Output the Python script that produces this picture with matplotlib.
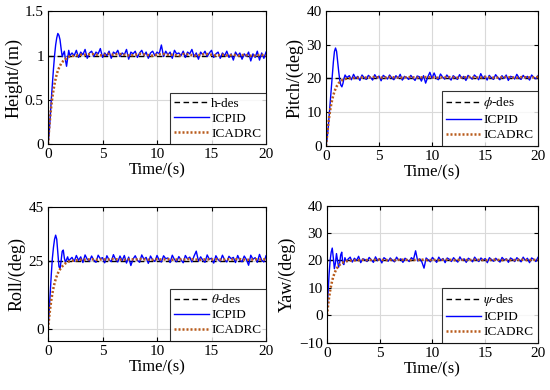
import numpy as np
import matplotlib.pyplot as plt

plt.rcParams['font.family'] = ['Liberation Serif', 'DejaVu Serif']
plt.rcParams['mathtext.fontset'] = 'stix'

# time bases
t_pid = np.concatenate([np.arange(0, 2.01, 0.1), np.arange(2.2, 20.01, 0.2)])
t_adrc = np.concatenate([np.arange(0, 1.01, 0.1), [1.2, 1.4, 1.6, 1.8, 2.0], np.arange(2.5, 20.01, 0.5)])

# Height
h_des = 1.0
h_pid = [0, 0.12, 0.30, 0.50, 0.68, 0.85, 1.0, 1.12, 1.20, 1.25, 1.23, 1.18, 1.08, 0.99, 1.02, 1.05, 0.95, 0.88, 0.97, 1.06, 1.0,
         1.03, 1.0, 1.06, 0.98, 1.04, 1.01, 1.07, 0.97, 1.03, 1.05,
         0.99, 1.04, 1.02, 1.08, 0.98, 1.03, 1.0, 1.05, 0.97, 1.04,
         1.02, 1.06, 0.99, 1.03, 1.01, 1.07, 0.96, 1.04, 1.02, 1.05,
         0.98, 1.03, 1.06, 1.0, 1.04, 0.97, 1.03, 1.05, 1.0, 1.04,
         1.02, 1.12, 0.99, 1.05, 1.01, 1.04, 0.97, 1.06, 1.02, 1.03,
         1.0, 1.05, 0.98, 1.04, 1.02, 1.07, 0.99, 1.03, 0.96, 1.04,
         1.01, 1.05, 0.99, 1.03, 1.06, 0.98, 1.02, 1.04, 0.97, 1.03,
         1.0, 1.05, 0.98, 1.02, 0.95, 1.04, 1.0, 1.03, 0.96, 1.02,
         0.99, 1.04, 0.94, 1.02, 0.98, 1.05, 0.95, 1.03, 0.97, 1.04]
h_adrc = [0, 0.17, 0.31, 0.43, 0.53, 0.61, 0.68, 0.74, 0.79, 0.83, 0.86, 0.91, 0.94, 0.96, 0.98, 0.99,
          1.0, 1.01, 1.01, 1.02, 1.01, 1.0, 1.02, 1.01, 1.02, 1.01, 1.0, 1.01, 1.02, 1.01, 1.0, 1.01, 1.02, 1.01,
          1.01, 1.0, 1.02, 1.01, 1.0, 1.01, 1.02, 1.01, 1.0, 1.01, 1.0, 1.01, 1.0, 1.01, 1.0, 1.0, 1.01, 1.0]

# Pitch
p_des = 20.0
p_pid = [0, 2, 5, 9, 13, 17, 21, 25, 28, 29, 28, 25, 22, 19.5, 18, 17.5, 18.5, 20, 21, 20.5, 20.3,
         20.8, 19.6, 21.2, 20.0, 20.6, 19.4, 21.0, 20.2, 19.7, 20.9,
         20.3, 19.5, 21.1, 20.1, 20.7, 19.3, 20.9, 20.4, 19.8, 21.0,
         20.2, 19.6, 20.8, 20.0, 21.2, 19.5, 20.6, 20.3, 19.7, 20.9,
         20.1, 19.4, 20.7, 20.5, 19.2, 20.8, 18.6, 20.4, 21.8, 20.0,
         21.6, 20.1, 19.6, 21.3, 20.4, 19.8, 21.0, 20.2, 19.5, 20.8,
         20.3, 19.7, 21.1, 20.0, 20.6, 19.4, 20.9, 20.3, 19.8, 21.0,
         20.4, 19.6, 21.4, 20.1, 20.7, 19.5, 20.9, 20.2, 19.7, 21.1,
         20.3, 19.6, 20.8, 20.0, 21.0, 19.4, 20.6, 20.4, 19.8, 21.2,
         20.2, 19.7, 20.9, 20.1, 20.6, 19.5, 21.0, 20.3, 19.9, 20.8]
p_adrc = [0, 3, 6, 8.5, 10.7, 12.4, 13.9, 15.1, 16.1, 16.9, 17.6, 18.6, 19.2, 19.6, 19.8, 20.0,
          20.1, 20.2, 20.3, 20.2, 20.4, 20.3, 20.2, 20.4, 20.3, 20.2, 20.3, 20.4, 20.2, 20.3, 20.4, 20.3, 20.2, 20.3,
          20.4, 20.3, 20.2, 20.3, 20.4, 20.3, 20.2, 20.4, 20.3, 20.2, 20.3, 20.4, 20.3, 20.2, 20.4, 20.3, 20.3, 20.4]

# Roll
r_des = 25.0
r_pid = [0, 6, 13, 20, 26, 30, 33, 34.5, 33, 28, 23, 22, 25, 28.5, 29, 26, 24.5, 25.5, 26.5, 25, 25.5,
         26.3, 24.8, 27.0, 25.2, 26.5, 24.4, 27.2, 25.6, 24.9, 26.8,
         25.3, 24.5, 27.1, 25.8, 26.2, 24.3, 26.9, 25.4, 24.7, 27.3,
         25.5, 24.6, 26.8, 25.1, 27.0, 24.2, 26.4, 23.3, 25.7, 26.9,
         25.2, 24.5, 27.2, 25.6, 26.3, 24.1, 26.8, 25.4, 24.8, 27.0,
         25.3, 24.6, 26.9, 25.8, 26.1, 24.4, 27.1, 25.5, 24.7, 26.6,
         25.4, 24.3, 27.0, 25.7, 26.4, 24.6, 26.8, 28.6, 24.9, 26.5,
         25.3, 24.5, 27.2, 25.6, 26.0, 24.2, 26.9, 25.5, 24.8, 27.1,
         25.4, 24.6, 26.7, 25.8, 26.3, 24.4, 27.0, 25.2, 24.7, 26.8,
         25.5, 23.4, 27.1, 25.6, 26.2, 24.5, 27.4, 25.3, 24.6, 26.9]
r_adrc = [0, 4, 7.5, 10.5, 13, 15, 16.8, 18.2, 19.4, 20.4, 21.2, 22.5, 23.4, 24.1, 24.6, 24.9,
          25.2, 25.4, 25.5, 25.6, 25.4, 25.6, 25.5, 25.7, 25.5, 25.4, 25.6, 25.5, 25.7, 25.5, 25.4, 25.6, 25.5, 25.6,
          25.4, 25.6, 25.5, 25.7, 25.5, 25.4, 25.6, 25.5, 25.6, 25.4, 25.6, 25.5, 25.7, 25.5, 25.4, 25.6, 25.5, 25.6]

# Yaw
y_des = 20.0
y_pid = [0, 8, 15, 20, 23, 24.5, 21, 17, 19, 22.5, 20, 17.5, 19, 22, 23, 19, 18.5, 21, 20, 19.5, 20.5,
         21.2, 19.4, 20.8, 20.0, 21.5, 19.2, 20.6, 20.3, 19.6, 21.1,
         20.2, 19.3, 21.3, 19.9, 20.7, 19.1, 21.0, 20.4, 19.7, 20.9,
         20.1, 19.5, 21.2, 20.0, 20.6, 19.3, 20.8, 20.2, 19.6, 21.0,
         20.3, 23.5, 19.8, 20.6, 19.4, 17.2, 20.9, 20.2, 19.5, 21.1,
         20.2, 19.3, 21.2, 20.0, 20.7, 19.2, 20.9, 20.4, 19.6, 21.0,
         20.1, 19.4, 21.3, 20.0, 20.6, 19.3, 20.8, 20.3, 19.5, 21.2,
         20.2, 19.6, 20.9, 20.1, 20.7, 19.2, 21.0, 20.3, 19.7, 20.8,
         20.0, 19.4, 21.1, 20.2, 20.6, 19.3, 20.9, 20.4, 19.6, 21.0,
         20.3, 19.5, 21.2, 20.0, 20.8, 19.2, 20.9, 20.4, 19.6, 21.1]
y_adrc = [0, 3.5, 6.5, 9, 11, 12.7, 14.1, 15.2, 16.1, 16.9, 17.5, 18.4, 19.0, 19.4, 19.7, 19.9,
          20.0, 20.1, 20.2, 20.1, 20.2, 20.3, 20.1, 20.2, 20.1, 20.3, 20.2, 20.1, 20.2, 20.3, 20.1, 20.2, 20.1, 20.2,
          20.3, 20.1, 20.2, 20.2, 20.1, 20.3, 20.2, 20.1, 20.2, 20.3, 20.1, 20.2, 20.1, 20.2, 20.3, 20.1, 20.2, 20.2]

panels = [
    ([0.0873, 0.630, 0.3964, 0.341], h_des, h_pid, h_adrc, 'h-des', 'Height/(m)', (0, 1.5), [0, 0.5, 1, 1.5], ['0', '0.5', '1', '1.5']),
    ([0.5927, 0.626, 0.3855, 0.346], p_des, p_pid, p_adrc, r'$\phi$-des', 'Pitch/(deg)', (0, 40), [0, 10, 20, 30, 40], None),
    ([0.0873, 0.126, 0.3964, 0.344], r_des, r_pid, r_adrc, r'$\theta$-des', 'Roll/(deg)', (-4.5, 45), [0, 25, 45], None),
    ([0.5945, 0.121, 0.3836, 0.352], y_des, y_pid, y_adrc, r'$\psi$-des', 'Yaw/(deg)', (-10, 40), [-10, 0, 10, 20, 30, 40], None),
]

fig = plt.figure(figsize=(5.5, 3.9), dpi=100)
for pos, des, pid, adrc, des_lbl, ylab, ylim, yticks, ytl in panels:
    ax = fig.add_axes(pos)
    ax.plot([0, 20], [des, des], color='black', ls=(0, (4, 2.5)), lw=1.0, label=des_lbl)
    ax.plot(t_pid, pid, color='#0000ff', lw=1.0, label='ICPID')
    ax.plot(t_adrc, adrc, color='#b85a1a', ls=(0, (0.8, 0.8)), lw=1.8, label='ICADRC')
    ax.set_xlim(0, 20)
    ax.set_ylim(*ylim)
    ax.set_xticks([0, 5, 10, 15, 20])
    ax.set_yticks(yticks)
    if ytl:
        ax.set_yticklabels(ytl)
    ax.grid(True, color='#d9d9d9', lw=0.8)
    ax.set_axisbelow(True)
    ax.tick_params(direction='in', top=True, right=True, labelsize=11, length=3, pad=3)
    ax.set_xlabel('Time/(s)', fontsize=12, labelpad=1)
    ax.set_ylabel(ylab, fontsize=13, labelpad=2)
    for s in ax.spines.values():
        s.set_linewidth(0.8)
    leg = ax.legend(loc='lower right', fontsize=9.5, fancybox=False, edgecolor='black',
                    borderaxespad=0, handlelength=2.6, borderpad=0.35, labelspacing=0.2, handletextpad=0.2)
    leg.get_frame().set_linewidth(0.8)

fig.savefig('out.png', dpi=100)
